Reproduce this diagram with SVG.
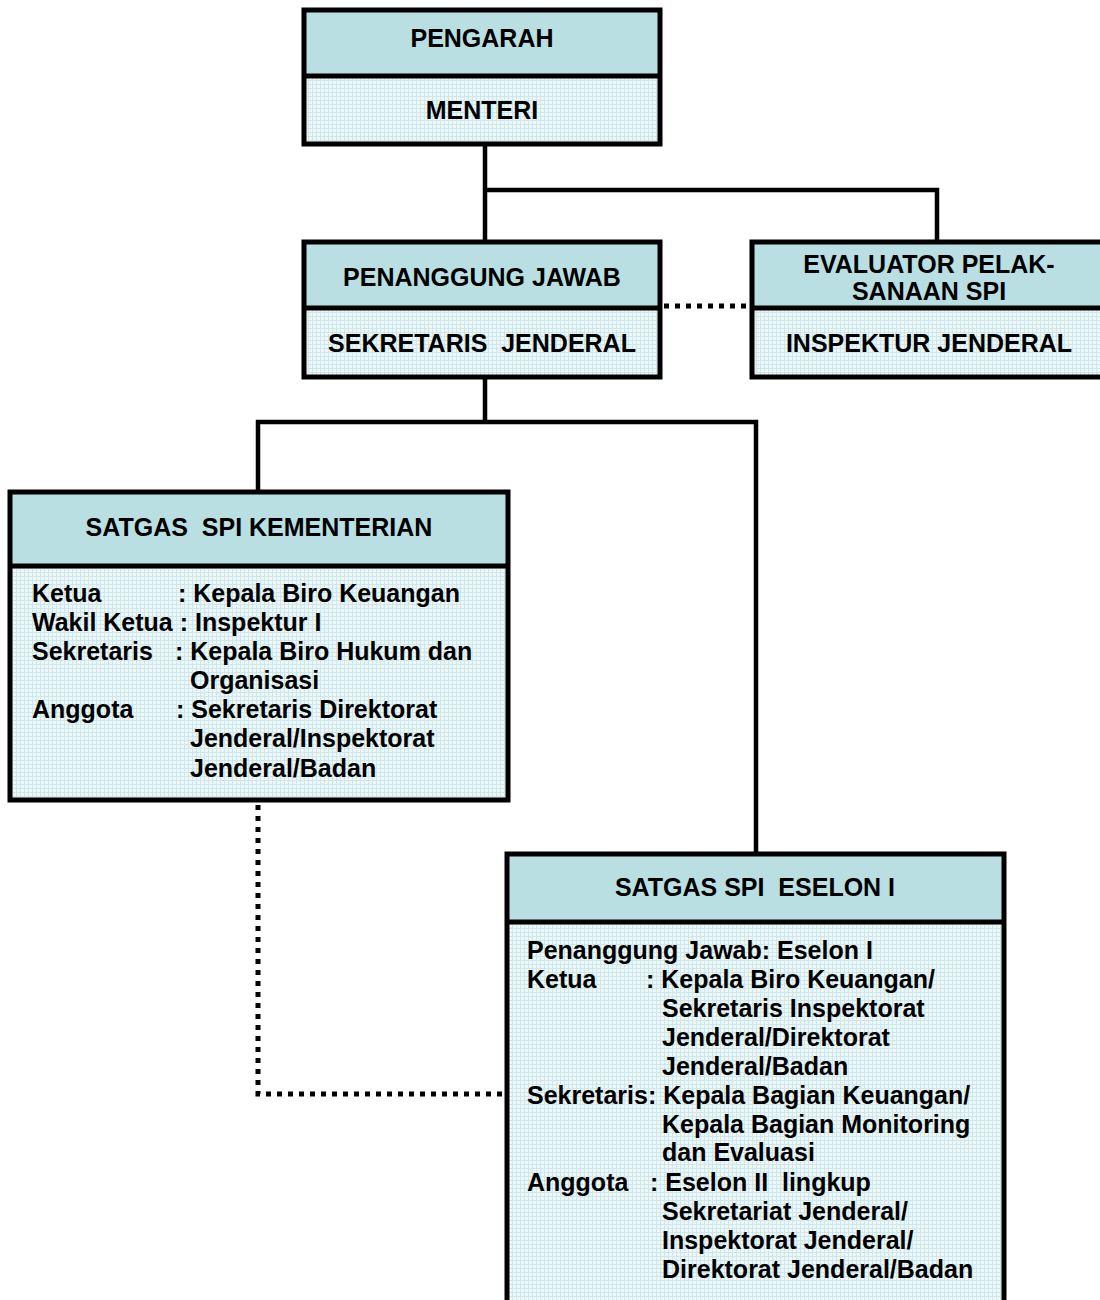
<svg xmlns="http://www.w3.org/2000/svg" width="1100" height="1300" viewBox="0 0 1100 1300">
  <defs>
    <pattern id="grid" width="4" height="4" patternUnits="userSpaceOnUse">
      <rect width="4" height="4" fill="#eef7f8"/>
      <rect x="0" y="0" width="4" height="1" fill="#cde7ea"/>
      <rect x="0" y="0" width="1" height="4" fill="#cde7ea"/>
    </pattern>
  </defs>
  <style>
    .head { fill: #b9dfe2; }
    .body { fill: url(#grid); }
    .frame { fill: none; stroke: #000; stroke-width: 5; }
    .div { stroke: #000; stroke-width: 5; }
    .t { font-family: "Liberation Sans", Arial, sans-serif; font-weight: bold; font-size: 25px; fill: #000; }
    .c { text-anchor: middle; }
    .conn { fill: none; stroke: #000; stroke-width: 4.5; }
    .dot { fill: none; stroke: #000; stroke-width: 5; stroke-dasharray: 5 6; }
  </style>
  <rect width="1100" height="1300" fill="#fff"/>

  <g id="connectors">
    <path class="conn" d="M485 146 V242 M485 190 H937 V242"/>
    <path class="conn" d="M485 377 V422 M258 492 V422 H756 V854"/>
    <path class="dot" d="M664 306 H750"/>
    <path class="dot" d="M258 805 V1094 H505"/>
  </g>

  <g id="pengarah">
    <rect class="head" x="304" y="10" width="356" height="66"/>
    <rect class="body" x="304" y="76" width="356" height="68"/>
    <line class="div" x1="304" y1="76" x2="660" y2="76"/>
    <rect class="frame" x="304" y="10" width="356" height="134"/>
    <text class="t c" x="482" y="47">PENGARAH</text>
    <text class="t c" x="482" y="119">MENTERI</text>
  </g>

  <g id="penanggung-jawab">
    <rect class="head" x="304" y="242" width="356" height="66"/>
    <rect class="body" x="304" y="308" width="356" height="69"/>
    <line class="div" x1="304" y1="308" x2="660" y2="308"/>
    <rect class="frame" x="304" y="242" width="356" height="135"/>
    <text class="t c" x="482" y="286">PENANGGUNG JAWAB</text>
    <text class="t c" x="482" y="352" xml:space="preserve">SEKRETARIS  JENDERAL</text>
  </g>

  <g id="evaluator">
    <rect class="head" x="752" y="242" width="356" height="66"/>
    <rect class="body" x="752" y="308" width="356" height="69"/>
    <line class="div" x1="752" y1="308" x2="1108" y2="308"/>
    <rect class="frame" x="752" y="242" width="356" height="135"/>
    <text class="t c" x="929" y="273">EVALUATOR PELAK-</text>
    <text class="t c" x="929" y="300">SANAAN SPI</text>
    <text class="t c" x="929" y="352">INSPEKTUR JENDERAL</text>
  </g>

  <g id="satgas-kementerian">
    <rect class="head" x="10" y="492" width="498" height="74"/>
    <rect class="body" x="10" y="566" width="498" height="234"/>
    <line class="div" x1="10" y1="566" x2="508" y2="566"/>
    <rect class="frame" x="10" y="492" width="498" height="308"/>
    <text class="t c" x="259" y="536" xml:space="preserve">SATGAS  SPI KEMENTERIAN</text>
    <text class="t" x="32" y="602">Ketua</text>
    <text class="t" x="178" y="602">: Kepala Biro Keuangan</text>
    <text class="t" x="32" y="631">Wakil Ketua : Inspektur I</text>
    <text class="t" x="32" y="660">Sekretaris</text>
    <text class="t" x="175" y="660">: Kepala Biro Hukum dan</text>
    <text class="t" x="190" y="689">Organisasi</text>
    <text class="t" x="32" y="718">Anggota</text>
    <text class="t" x="176" y="718">: Sekretaris Direktorat</text>
    <text class="t" x="190" y="747">Jenderal/Inspektorat</text>
    <text class="t" x="190" y="777">Jenderal/Badan</text>
  </g>

  <g id="satgas-eselon">
    <rect class="head" x="507" y="854" width="497" height="68"/>
    <rect class="body" x="507" y="922" width="497" height="392"/>
    <line class="div" x1="507" y1="922" x2="1004" y2="922"/>
    <rect class="frame" x="507" y="854" width="497" height="460"/>
    <text class="t c" x="755" y="896" xml:space="preserve">SATGAS SPI  ESELON I</text>
    <text class="t" x="527" y="959">Penanggung Jawab: Eselon I</text>
    <text class="t" x="527" y="988">Ketua</text>
    <text class="t" x="646" y="988">: Kepala Biro Keuangan/</text>
    <text class="t" x="662" y="1017">Sekretaris Inspektorat</text>
    <text class="t" x="662" y="1046">Jenderal/Direktorat</text>
    <text class="t" x="662" y="1075">Jenderal/Badan</text>
    <text class="t" x="527" y="1104">Sekretaris: Kepala Bagian Keuangan/</text>
    <text class="t" x="662" y="1133">Kepala Bagian Monitoring</text>
    <text class="t" x="662" y="1161">dan Evaluasi</text>
    <text class="t" x="527" y="1191">Anggota</text>
    <text class="t" x="650" y="1191" xml:space="preserve">: Eselon II  lingkup</text>
    <text class="t" x="662" y="1220">Sekretariat Jenderal/</text>
    <text class="t" x="662" y="1249">Inspektorat Jenderal/</text>
    <text class="t" x="662" y="1278">Direktorat Jenderal/Badan</text>
  </g>
</svg>
